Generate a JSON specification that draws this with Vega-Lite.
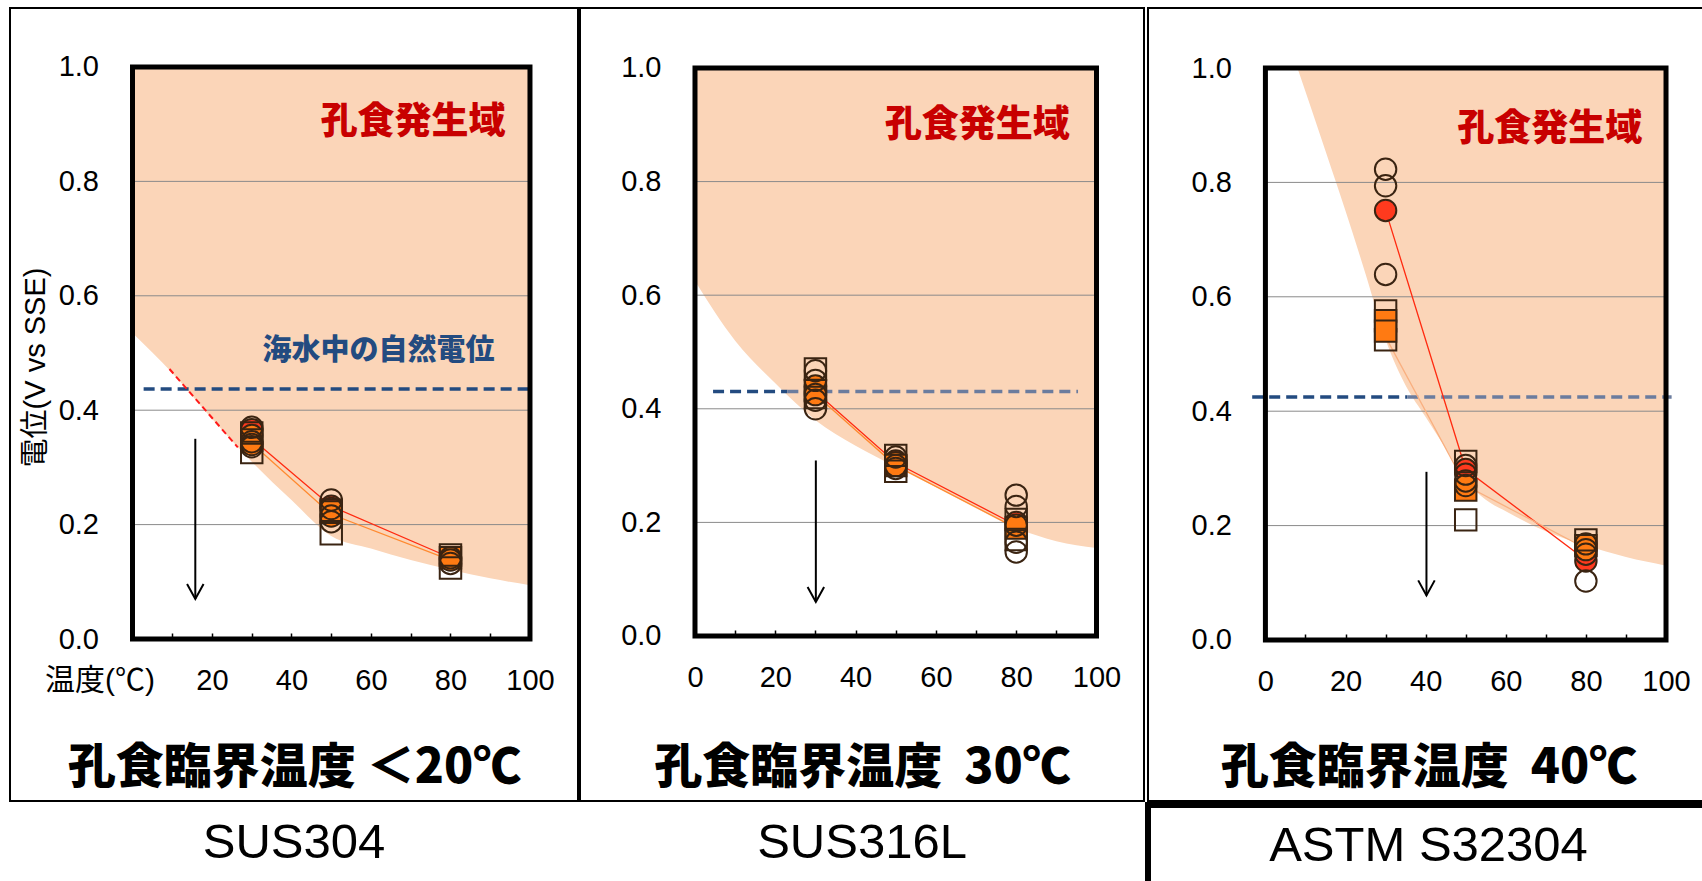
{
 "$schema": "https://vega.github.io/schema/vega-lite/v6.json",
 "padding": {"left": 9, "top": 7, "right": 0, "bottom": 0},
 "background": "white",
 "spacing": 0,
 "config": {"view": {"stroke": "black", "strokeWidth": 2}, "concat": {"spacing": 0}, "font": "Liberation Sans"},
 "datasets": {
  "bnd": [
   {"p":1,"t":0,"v":0.535},{"p":1,"t":10,"v":0.465},{"p":1,"t":20,"v":0.385},{"p":1,"t":30,"v":0.31},{"p":1,"t":40,"v":0.243},{"p":1,"t":50,"v":0.18},{"p":1,"t":60,"v":0.158},{"p":1,"t":70,"v":0.138},{"p":1,"t":80,"v":0.121},{"p":1,"t":90,"v":0.106},{"p":1,"t":100,"v":0.094},
   {"p":2,"t":0,"v":0.625},{"p":2,"t":10,"v":0.52},{"p":2,"t":20,"v":0.445},{"p":2,"t":30,"v":0.38},{"p":2,"t":40,"v":0.335},{"p":2,"t":50,"v":0.298},{"p":2,"t":60,"v":0.262},{"p":2,"t":70,"v":0.225},{"p":2,"t":80,"v":0.19},{"p":2,"t":90,"v":0.167},{"p":2,"t":100,"v":0.155},
   {"p":3,"t":8,"v":1.0},{"p":3,"t":15,"v":0.855},{"p":3,"t":20,"v":0.75},{"p":3,"t":25,"v":0.64},{"p":3,"t":30,"v":0.525},{"p":3,"t":35,"v":0.445},{"p":3,"t":40,"v":0.39},{"p":3,"t":45,"v":0.335},{"p":3,"t":50,"v":0.28},{"p":3,"t":55,"v":0.245},{"p":3,"t":60,"v":0.225},{"p":3,"t":70,"v":0.19},{"p":3,"t":80,"v":0.165},{"p":3,"t":90,"v":0.145},{"p":3,"t":100,"v":0.13}
  ],
  "grid": [{"v":0.2},{"v":0.4},{"v":0.6},{"v":0.8}],
  "ln": [
   {"p":1,"g":"red","t":30,"v":0.35},{"p":1,"g":"red","t":50,"v":0.232},{"p":1,"g":"red","t":80,"v":0.142},
   {"p":1,"g":"orange","t":30,"v":0.342},{"p":1,"g":"orange","t":50,"v":0.218},{"p":1,"g":"orange","t":80,"v":0.138},
   {"p":2,"g":"red","t":30,"v":0.43},{"p":2,"g":"red","t":50,"v":0.305},{"p":2,"g":"red","t":80,"v":0.195},
   {"p":2,"g":"orange","t":30,"v":0.425},{"p":2,"g":"orange","t":50,"v":0.3},{"p":2,"g":"orange","t":80,"v":0.19},
   {"p":3,"g":"red","t":30,"v":0.751},{"p":3,"g":"red","t":50,"v":0.298},{"p":3,"g":"red","t":80,"v":0.14},
   {"p":3,"g":"faint","t":30,"v":0.53},{"p":3,"g":"faint","t":50,"v":0.27},{"p":3,"g":"faint","t":80,"v":0.16}
  ],
  "pts": [
   {"p":1,"t":30,"v":0.366,"s":"circle","f":"red"},
   {"p":1,"t":30,"v":0.356,"s":"circle","f":"orange"},
   {"p":1,"t":30,"v":0.348,"s":"square","f":"orange"},
   {"p":1,"t":30,"v":0.340,"s":"circle","f":"orange"},
   {"p":1,"t":30,"v":0.370,"s":"circle","f":"open"},
   {"p":1,"t":30,"v":0.360,"s":"square","f":"open"},
   {"p":1,"t":30,"v":0.345,"s":"circle","f":"open"},
   {"p":1,"t":30,"v":0.336,"s":"circle","f":"open"},
   {"p":1,"t":30,"v":0.326,"s":"square","f":"open"},
   {"p":1,"t":50,"v":0.232,"s":"circle","f":"red"},
   {"p":1,"t":50,"v":0.222,"s":"square","f":"orange"},
   {"p":1,"t":50,"v":0.215,"s":"circle","f":"orange"},
   {"p":1,"t":50,"v":0.243,"s":"circle","f":"open"},
   {"p":1,"t":50,"v":0.228,"s":"circle","f":"open"},
   {"p":1,"t":50,"v":0.225,"s":"square","f":"open"},
   {"p":1,"t":50,"v":0.205,"s":"circle","f":"open"},
   {"p":1,"t":50,"v":0.184,"s":"square","f":"open"},
   {"p":1,"t":80,"v":0.142,"s":"square","f":"orange"},
   {"p":1,"t":80,"v":0.138,"s":"circle","f":"orange"},
   {"p":1,"t":80,"v":0.147,"s":"square","f":"open"},
   {"p":1,"t":80,"v":0.142,"s":"circle","f":"open"},
   {"p":1,"t":80,"v":0.132,"s":"circle","f":"open"},
   {"p":1,"t":80,"v":0.124,"s":"square","f":"open"},
   {"p":2,"t":30,"v":0.43,"s":"circle","f":"red"},
   {"p":2,"t":30,"v":0.44,"s":"circle","f":"orange"},
   {"p":2,"t":30,"v":0.432,"s":"square","f":"orange"},
   {"p":2,"t":30,"v":0.425,"s":"circle","f":"orange"},
   {"p":2,"t":30,"v":0.47,"s":"square","f":"open"},
   {"p":2,"t":30,"v":0.467,"s":"circle","f":"open"},
   {"p":2,"t":30,"v":0.45,"s":"circle","f":"open"},
   {"p":2,"t":30,"v":0.42,"s":"square","f":"open"},
   {"p":2,"t":30,"v":0.415,"s":"circle","f":"open"},
   {"p":2,"t":30,"v":0.40,"s":"circle","f":"open"},
   {"p":2,"t":50,"v":0.308,"s":"circle","f":"red"},
   {"p":2,"t":50,"v":0.305,"s":"circle","f":"orange"},
   {"p":2,"t":50,"v":0.30,"s":"square","f":"orange"},
   {"p":2,"t":50,"v":0.318,"s":"square","f":"open"},
   {"p":2,"t":50,"v":0.315,"s":"circle","f":"open"},
   {"p":2,"t":50,"v":0.30,"s":"circle","f":"open"},
   {"p":2,"t":50,"v":0.295,"s":"circle","f":"open"},
   {"p":2,"t":50,"v":0.29,"s":"square","f":"open"},
   {"p":2,"t":80,"v":0.20,"s":"circle","f":"red"},
   {"p":2,"t":80,"v":0.19,"s":"square","f":"orange"},
   {"p":2,"t":80,"v":0.195,"s":"circle","f":"orange"},
   {"p":2,"t":80,"v":0.248,"s":"circle","f":"open"},
   {"p":2,"t":80,"v":0.228,"s":"circle","f":"open"},
   {"p":2,"t":80,"v":0.205,"s":"square","f":"open"},
   {"p":2,"t":80,"v":0.17,"s":"square","f":"open"},
   {"p":2,"t":80,"v":0.165,"s":"circle","f":"open"},
   {"p":2,"t":80,"v":0.148,"s":"circle","f":"open"},
   {"p":3,"t":30,"v":0.823,"s":"circle","f":"open"},
   {"p":3,"t":30,"v":0.794,"s":"circle","f":"open"},
   {"p":3,"t":30,"v":0.751,"s":"circle","f":"red"},
   {"p":3,"t":30,"v":0.639,"s":"circle","f":"open"},
   {"p":3,"t":30,"v":0.575,"s":"square","f":"open"},
   {"p":3,"t":30,"v":0.525,"s":"square","f":"open"},
   {"p":3,"t":30,"v":0.558,"s":"square","f":"orange"},
   {"p":3,"t":30,"v":0.540,"s":"square","f":"orange"},
   {"p":3,"t":50,"v":0.298,"s":"circle","f":"red"},
   {"p":3,"t":50,"v":0.262,"s":"square","f":"orange"},
   {"p":3,"t":50,"v":0.27,"s":"circle","f":"orange"},
   {"p":3,"t":50,"v":0.312,"s":"square","f":"open"},
   {"p":3,"t":50,"v":0.305,"s":"circle","f":"open"},
   {"p":3,"t":50,"v":0.29,"s":"circle","f":"open"},
   {"p":3,"t":50,"v":0.278,"s":"circle","f":"open"},
   {"p":3,"t":50,"v":0.21,"s":"square","f":"open"},
   {"p":3,"t":80,"v":0.138,"s":"circle","f":"red"},
   {"p":3,"t":80,"v":0.165,"s":"square","f":"orange"},
   {"p":3,"t":80,"v":0.158,"s":"circle","f":"orange"},
   {"p":3,"t":80,"v":0.175,"s":"square","f":"open"},
   {"p":3,"t":80,"v":0.168,"s":"circle","f":"open"},
   {"p":3,"t":80,"v":0.15,"s":"circle","f":"open"},
   {"p":3,"t":80,"v":0.103,"s":"circle","f":"open"}
  ]
 },
 "hconcat": [
  {"spacing": 0, "vconcat": [
   {"width": 568, "height": 793,
    "layer": [
     {"data": {"name": "bnd"}, "transform": [{"filter": "datum.p == 1"}],
      "mark": {"type": "area", "color": "#FBD5B8", "interpolate": "monotone"},
      "encoding": {
       "x": {"field": "t", "type": "quantitative", "scale": {"domain": [-30.82, 112.08], "nice": false, "zero": false},
        "axis": {"values": [0,10,20,30,40,50,60,70,80,90,100], "offset": -162, "zindex": 1, "domain": false, "grid": false, "ticks": true, "tickSize": -6, "tickColor": "black", "tickWidth": 1.5, "labelExpr": "datum.value == 0 || datum.value % 20 != 0 ? '' : datum.label", "labelFont": "Liberation Sans", "labelFontSize": 29, "labelColor": "black", "labelPadding": 33, "labelFlush": false, "labelOverlap": false, "title": "孔食臨界温度 ＜20℃", "titleFont": "Noto Sans CJK JP", "titleFontSize": 48, "titleFontWeight": 900, "titleColor": "black", "titleY": 129, "titleBaseline": "middle"}},
       "y": {"field": "v", "type": "quantitative", "scale": {"domain": [-0.2832, 1.1031], "nice": false, "zero": false},
        "axis": {"values": [0,0.2,0.4,0.6,0.8,1], "format": ".1f", "offset": -122.5, "domain": false, "grid": false, "ticks": false, "labelFont": "Liberation Sans", "labelFontSize": 29, "labelColor": "black", "labelPadding": 34, "labelFlush": false, "labelOverlap": false, "title": "電位(V vs SSE)", "titleFont": "Liberation Sans, Noto Sans CJK JP", "titleFontSize": 29, "titleFontWeight": "normal", "titleColor": "black", "titleAngle": -90, "titleX": -97, "titleY": 359, "titleAlign": "center", "titleBaseline": "middle"}},
       "y2": {"datum": 1}
      }},
     {"data": {"name": "grid"}, "mark": {"type": "rule", "color": "#8a8a8a", "strokeWidth": 1},
      "encoding": {"x": {"datum": 0}, "x2": {"datum": 100}, "y": {"field": "v", "type": "quantitative"}}},
     {"data": {"values": [{}]}, "mark": {"type": "rule", "color": "#234B80", "strokeWidth": 3.5, "strokeDash": [11, 6]},
      "encoding": {"x": {"datum": 2.8}, "x2": {"datum": 100.5}, "y": {"datum": 0.437}}},
     {"data": {"values": [{}]}, "mark": {"type": "rect", "fill": "transparent", "stroke": "black", "strokeWidth": 5},
      "encoding": {"x": {"datum": 0}, "x2": {"datum": 100}, "y": {"datum": 0}, "y2": {"datum": 1}}},
     {"data": {"values": [{}]}, "mark": {"type": "rule", "color": "#FF1A1A", "strokeWidth": 2, "strokeDash": [6, 4]},
      "encoding": {"x": {"datum": 9.3}, "x2": {"datum": 26.5}, "y": {"datum": 0.472}, "y2": {"datum": 0.335}}},
     {"data": {"values": [{}]}, "mark": {"type": "rule", "color": "black", "strokeWidth": 2},
      "encoding": {"x": {"datum": 15.8}, "y": {"datum": 0.35}, "y2": {"datum": 0.07}}},
     {"data": {"values": [{}]}, "mark": {"type": "point", "shape": "M-0.55,-1L0,0L0.55,-1", "size": 900, "filled": false, "stroke": "black", "strokeWidth": 2, "opacity": 1},
      "encoding": {"x": {"datum": 15.8}, "y": {"datum": 0.07}}},
     {"data": {"name": "ln"}, "transform": [{"filter": "datum.p == 1"}], "mark": {"type": "line", "strokeWidth": 1.3},
      "encoding": {"x": {"field": "t", "type": "quantitative"}, "y": {"field": "v", "type": "quantitative"},
       "color": {"field": "g", "type": "nominal", "scale": {"domain": ["red", "orange", "faint"], "range": ["#FF2A10", "#FF8A30", "#F9B080"]}, "legend": null}}},
     {"data": {"name": "pts"}, "transform": [{"filter": "datum.p == 1"}],
      "mark": {"type": "point", "filled": true, "size": 460, "strokeWidth": 2, "stroke": "#3a2412", "opacity": 1, "fillOpacity": 1},
      "encoding": {"x": {"field": "t", "type": "quantitative"}, "y": {"field": "v", "type": "quantitative"},
       "shape": {"field": "s", "type": "nominal", "scale": {"domain": ["circle", "square"], "range": ["circle", "square"]}, "legend": null},
       "fill": {"field": "f", "type": "nominal", "scale": {"domain": ["open", "orange", "red"], "range": ["transparent", "#FF7A12", "#FF3A1E"]}, "legend": null}}},
     {"data": {"values": [{}]}, "mark": {"type": "text", "text": "孔食発生域", "font": "Noto Sans CJK JP", "fontSize": 37, "fontWeight": 900, "color": "#C80000"},
      "encoding": {"x": {"datum": 70.6}, "y": {"datum": 0.902}}},
     {"data": {"values": [{}]}, "mark": {"type": "text", "text": "海水中の自然電位", "font": "Noto Sans CJK JP", "fontSize": 29, "fontWeight": 900, "color": "#234B80"},
      "encoding": {"x": {"datum": 61.9}, "y": {"datum": 0.5035}}},
     {"data": {"values": [{}]}, "mark": {"type": "text", "text": "温度(℃)", "font": "Liberation Sans, Noto Sans CJK JP", "fontSize": 30, "color": "black"},
      "encoding": {"x": {"datum": -8.2}, "y": {"datum": -0.074}}}
    ]},
   {"width": 568, "height": 81, "data": {"values": [{"n": "SUS304"}]},
    "mark": {"type": "text", "fontSize": 49, "font": "Liberation Sans", "color": "black"},
    "encoding": {"text": {"field": "n", "type": "nominal"}}}
  ]},
  {"spacing": 0, "vconcat": [
   {"width": 564, "height": 793,
    "layer": [
     {"data": {"name": "bnd"}, "transform": [{"filter": "datum.p == 2"}],
      "mark": {"type": "area", "color": "#FBD5B8", "interpolate": "monotone"},
      "encoding": {
       "x": {"field": "t", "type": "quantitative", "scale": {"domain": [-28.64, 111.83], "nice": false, "zero": false},
        "axis": {"values": [0,10,20,30,40,50,60,70,80,90,100], "offset": -165, "zindex": 1, "domain": false, "grid": false, "ticks": true, "tickSize": -6, "tickColor": "black", "tickWidth": 1.5, "labelExpr": "datum.value % 20 != 0 ? '' : datum.label", "labelFont": "Liberation Sans", "labelFontSize": 29, "labelColor": "black", "labelPadding": 33, "labelFlush": false, "labelOverlap": false, "title": "孔食臨界温度\u00a0\u00a030℃", "titleFont": "Noto Sans CJK JP", "titleFontSize": 48, "titleFontWeight": 900, "titleColor": "black", "titleY": 132, "titleBaseline": "middle"}},
       "y": {"field": "v", "type": "quantitative", "scale": {"domain": [-0.2905, 1.1056], "nice": false, "zero": false},
        "axis": {"values": [0,0.2,0.4,0.6,0.8,1], "format": ".1f", "offset": -115, "domain": false, "grid": false, "ticks": false, "labelFont": "Liberation Sans", "labelFontSize": 29, "labelColor": "black", "labelPadding": 34, "labelFlush": false, "labelOverlap": false, "title": null}},
       "y2": {"datum": 1}
      }},
     {"data": {"name": "grid"}, "mark": {"type": "rule", "color": "#8a8a8a", "strokeWidth": 1},
      "encoding": {"x": {"datum": 0}, "x2": {"datum": 100}, "y": {"field": "v", "type": "quantitative"}}},
     {"data": {"values": [{}]}, "mark": {"type": "rule", "color": "#234B80", "strokeWidth": 3.5, "strokeDash": [11, 6]},
      "encoding": {"x": {"datum": 4.5}, "x2": {"datum": 23.0}, "y": {"datum": 0.4306}}},
     {"data": {"values": [{}]}, "mark": {"type": "rule", "color": "#6B7C9E", "strokeWidth": 3.5, "strokeDash": [11, 6]},
      "encoding": {"x": {"datum": 23.0}, "x2": {"datum": 95.4}, "y": {"datum": 0.4306}}},
     {"data": {"values": [{}]}, "mark": {"type": "rect", "fill": "transparent", "stroke": "black", "strokeWidth": 5},
      "encoding": {"x": {"datum": 0}, "x2": {"datum": 100}, "y": {"datum": 0}, "y2": {"datum": 1}}},
     {"data": {"values": [{}]}, "mark": {"type": "rule", "color": "black", "strokeWidth": 2},
      "encoding": {"x": {"datum": 30.1}, "y": {"datum": 0.309}, "y2": {"datum": 0.06}}},
     {"data": {"values": [{}]}, "mark": {"type": "point", "shape": "M-0.55,-1L0,0L0.55,-1", "size": 900, "filled": false, "stroke": "black", "strokeWidth": 2, "opacity": 1},
      "encoding": {"x": {"datum": 30.1}, "y": {"datum": 0.06}}},
     {"data": {"name": "ln"}, "transform": [{"filter": "datum.p == 2"}], "mark": {"type": "line", "strokeWidth": 1.3},
      "encoding": {"x": {"field": "t", "type": "quantitative"}, "y": {"field": "v", "type": "quantitative"},
       "color": {"field": "g", "type": "nominal", "scale": {"domain": ["red", "orange", "faint"], "range": ["#FF2A10", "#FF8A30", "#F9B080"]}, "legend": null}}},
     {"data": {"name": "pts"}, "transform": [{"filter": "datum.p == 2"}],
      "mark": {"type": "point", "filled": true, "size": 460, "strokeWidth": 2, "stroke": "#3a2412", "opacity": 1, "fillOpacity": 1},
      "encoding": {"x": {"field": "t", "type": "quantitative"}, "y": {"field": "v", "type": "quantitative"},
       "shape": {"field": "s", "type": "nominal", "scale": {"domain": ["circle", "square"], "range": ["circle", "square"]}, "legend": null},
       "fill": {"field": "f", "type": "nominal", "scale": {"domain": ["open", "orange", "red"], "range": ["transparent", "#FF7A12", "#FF3A1E"]}, "legend": null}}},
     {"data": {"values": [{}]}, "mark": {"type": "text", "text": "孔食発生域", "font": "Noto Sans CJK JP", "fontSize": 37, "fontWeight": 900, "color": "#C80000"},
      "encoding": {"x": {"datum": 70.3}, "y": {"datum": 0.898}}}
    ]},
   {"width": 564, "height": 81, "data": {"values": [{"n": "SUS316L"}]},
    "mark": {"type": "text", "fontSize": 49, "font": "Liberation Sans", "color": "black"},
    "encoding": {"text": {"field": "n", "type": "nominal"}}}
  ]},
  {"spacing": 0, "vconcat": [
   {"width": 561, "height": 793,
    "layer": [
     {"data": {"name": "bnd"}, "transform": [{"filter": "datum.p == 3"}],
      "mark": {"type": "area", "color": "#FBD5B8", "interpolate": "monotone"},
      "encoding": {
       "x": {"field": "t", "type": "quantitative", "scale": {"domain": [-29.31, 110.73], "nice": false, "zero": false},
        "axis": {"values": [0,10,20,30,40,50,60,70,80,90,100], "offset": -161, "zindex": 1, "domain": false, "grid": false, "ticks": true, "tickSize": -6, "tickColor": "black", "tickWidth": 1.5, "labelExpr": "datum.value % 20 != 0 ? '' : datum.label", "labelFont": "Liberation Sans", "labelFontSize": 29, "labelColor": "black", "labelPadding": 33, "labelFlush": false, "labelOverlap": false, "title": "孔食臨界温度\u00a0\u00a040℃", "titleFont": "Noto Sans CJK JP", "titleFontSize": 48, "titleFontWeight": 900, "titleColor": "black", "titleY": 128, "titleBaseline": "middle"}},
       "y": {"field": "v", "type": "quantitative", "scale": {"domain": [-0.2815, 1.1049], "nice": false, "zero": false},
        "axis": {"values": [0,0.2,0.4,0.6,0.8,1], "format": ".1f", "offset": -117.4, "domain": false, "grid": false, "ticks": false, "labelFont": "Liberation Sans", "labelFontSize": 29, "labelColor": "black", "labelPadding": 34, "labelFlush": false, "labelOverlap": false, "title": null}},
       "y2": {"datum": 1}
      }},
     {"data": {"name": "grid"}, "mark": {"type": "rule", "color": "#8a8a8a", "strokeWidth": 1},
      "encoding": {"x": {"datum": 0}, "x2": {"datum": 100}, "y": {"field": "v", "type": "quantitative"}}},
     {"data": {"values": [{}]}, "mark": {"type": "rule", "color": "#234B80", "strokeWidth": 3.5, "strokeDash": [11, 6]},
      "encoding": {"x": {"datum": -3.3}, "x2": {"datum": 35.4}, "y": {"datum": 0.425}}},
     {"data": {"values": [{}]}, "mark": {"type": "rule", "color": "#6B7C9E", "strokeWidth": 3.5, "strokeDash": [11, 6]},
      "encoding": {"x": {"datum": 35.4}, "x2": {"datum": 101.4}, "y": {"datum": 0.425}}},
     {"data": {"values": [{}]}, "mark": {"type": "rect", "fill": "transparent", "stroke": "black", "strokeWidth": 5},
      "encoding": {"x": {"datum": 0}, "x2": {"datum": 100}, "y": {"datum": 0}, "y2": {"datum": 1}}},
     {"data": {"values": [{}]}, "mark": {"type": "rule", "color": "black", "strokeWidth": 2},
      "encoding": {"x": {"datum": 40.2}, "y": {"datum": 0.294}, "y2": {"datum": 0.078}}},
     {"data": {"values": [{}]}, "mark": {"type": "point", "shape": "M-0.55,-1L0,0L0.55,-1", "size": 900, "filled": false, "stroke": "black", "strokeWidth": 2, "opacity": 1},
      "encoding": {"x": {"datum": 40.2}, "y": {"datum": 0.078}}},
     {"data": {"name": "ln"}, "transform": [{"filter": "datum.p == 3"}], "mark": {"type": "line", "strokeWidth": 1.3},
      "encoding": {"x": {"field": "t", "type": "quantitative"}, "y": {"field": "v", "type": "quantitative"},
       "color": {"field": "g", "type": "nominal", "scale": {"domain": ["red", "orange", "faint"], "range": ["#FF2A10", "#FF8A30", "#F9B080"]}, "legend": null}}},
     {"data": {"name": "pts"}, "transform": [{"filter": "datum.p == 3"}],
      "mark": {"type": "point", "filled": true, "size": 460, "strokeWidth": 2, "stroke": "#3a2412", "opacity": 1, "fillOpacity": 1},
      "encoding": {"x": {"field": "t", "type": "quantitative"}, "y": {"field": "v", "type": "quantitative"},
       "shape": {"field": "s", "type": "nominal", "scale": {"domain": ["circle", "square"], "range": ["circle", "square"]}, "legend": null},
       "fill": {"field": "f", "type": "nominal", "scale": {"domain": ["open", "orange", "red"], "range": ["transparent", "#FF7A12", "#FF3A1E"]}, "legend": null}}},
     {"data": {"values": [{}]}, "mark": {"type": "text", "text": "孔食発生域", "font": "Noto Sans CJK JP", "fontSize": 37, "fontWeight": 900, "color": "#C80000"},
      "encoding": {"x": {"datum": 71.0}, "y": {"datum": 0.892}}}
    ]},
   {"width": 561, "height": 81, "view": {"stroke": "black", "strokeWidth": 6}, "data": {"values": [{"n": "ASTM S32304"}]},
    "mark": {"type": "text", "fontSize": 49, "font": "Liberation Sans", "color": "black"},
    "encoding": {"text": {"field": "n", "type": "nominal"}}}
  ]}
 ]
}
